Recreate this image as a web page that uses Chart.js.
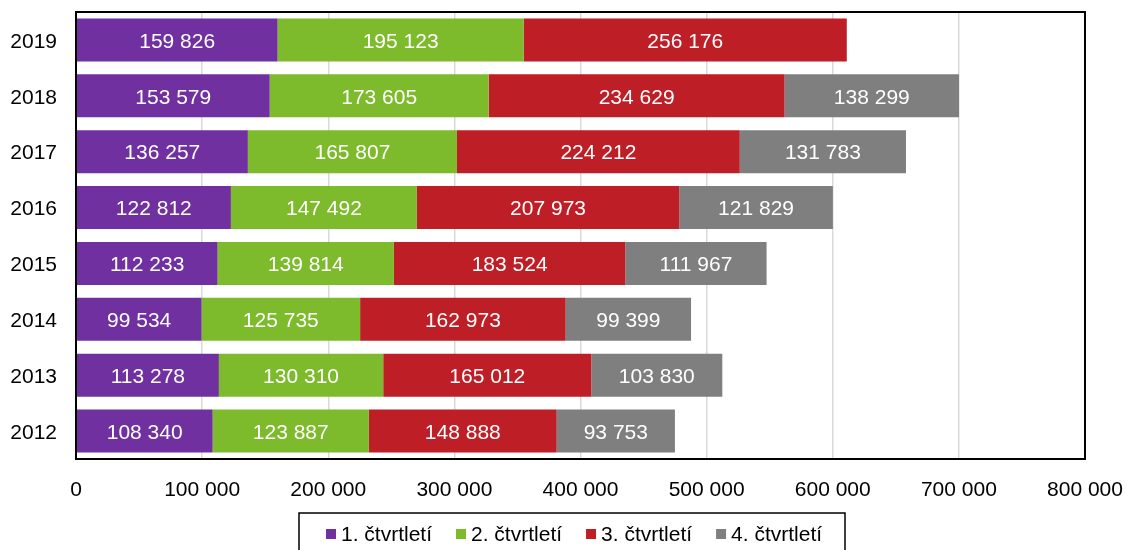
<!DOCTYPE html>
<html>
<head>
<meta charset="utf-8">
<script src="https://cdn.jsdelivr.net/npm/chart.js@4/dist/chart.umd.min.js"></script>
<style>
html,body{margin:0;padding:0;background:#fff;}
#wrap{width:1126px;height:550px;}
</style>
</head>
<body>
<div id="wrap"><canvas id="c" width="1126" height="550"></canvas></div>
<script>
const years = ['2019','2018','2017','2016','2015','2014','2013','2012'];
const q1 = [159826,153579,136257,122812,112233,99534,113278,108340];
const q2 = [195123,173605,165807,147492,139814,125735,130310,123887];
const q3 = [256176,234629,224212,207973,183524,162973,165012,148888];
const q4 = [null,138299,131783,121829,111967,99399,103830,93753];
const seriesNames = ['1. čtvrtletí','2. čtvrtletí','3. čtvrtletí','4. čtvrtletí'];
const seriesColors = ['#7030A0','#7DBA2C','#BE1E26','#7F7F7F'];

const FONT = '"Liberation Sans", Arial, sans-serif';
const fmt = v => String(Math.round(v)).replace(/\B(?=(\d{3})+(?!\d))/g, ' ');

const labelsPlugin = {
  id: 'segLabels',
  afterDatasetsDraw(chart) {
    const ctx = chart.ctx;
    ctx.save();
    ctx.fillStyle = '#fff';
    ctx.font = '21px ' + FONT;
    ctx.textAlign = 'center';
    ctx.textBaseline = 'middle';
    chart.data.datasets.forEach((ds, di) => {
      const meta = chart.getDatasetMeta(di);
      meta.data.forEach((el, i) => {
        const v = ds.data[i];
        if (v == null) return;
        const cx = (el.x + el.base) / 2;
        ctx.fillText(fmt(v), cx, el.y + 2);
      });
    });
    ctx.restore();
  }
};

const frameLegendPlugin = {
  id: 'frameLegend',
  afterDraw(chart) {
    const ctx = chart.ctx;
    const a = chart.chartArea;
    ctx.save();
    ctx.strokeStyle = '#000';
    ctx.lineWidth = 2;
    ctx.strokeRect(a.left, a.top, a.right - a.left, a.bottom - a.top);
    ctx.lineWidth = 1.5;
    ctx.strokeRect(299, 513, 546, 50);
    ctx.font = '21px ' + FONT;
    ctx.textBaseline = 'middle';
    ctx.textAlign = 'left';
    let x = 326;
    const cy = 534;
    chart.data.datasets.forEach(ds => {
      ctx.fillStyle = ds.backgroundColor;
      ctx.fillRect(x, cy - 5, 10, 10);
      ctx.fillStyle = '#000';
      ctx.fillText(ds.label, x + 15, cy + 1);
      x += 15 + ctx.measureText(ds.label).width + 24;
    });
    ctx.restore();
  }
};

function zeroPad(axis) {
  axis.paddingLeft = 0; axis.paddingRight = 0; axis.paddingTop = 0; axis.paddingBottom = 0;
}

new Chart(document.getElementById('c'), {
  type: 'bar',
  data: {
    labels: years,
    datasets: [q1, q2, q3, q4].map((d, i) => ({
      label: seriesNames[i],
      data: d,
      backgroundColor: seriesColors[i],
      borderWidth: 0,
      barPercentage: 0.77,
      categoryPercentage: 1
    }))
  },
  options: {
    indexAxis: 'y',
    responsive: false,
    animation: false,
    devicePixelRatio: 1,
    layout: { padding: { left: 0, top: 12, right: 41, bottom: 0 } },
    plugins: { legend: { display: false }, tooltip: { enabled: false } },
    scales: {
      x: {
        stacked: true,
        min: 0, max: 800000,
        ticks: { stepSize: 100000, callback: v => fmt(v), color: '#000', font: { family: FONT, size: 21 }, padding: 19, maxRotation: 0 },
        grid: { color: '#d9d9d9', lineWidth: 1.5, drawTicks: false },
        border: { display: false },
        afterFit(axis) { axis.height = 91; zeroPad(axis); }
      },
      y: {
        stacked: true,
        ticks: { color: '#000', font: { family: FONT, size: 21 }, padding: 19, labelOffset: 2 },
        grid: { display: false, drawTicks: false },
        border: { display: false },
        afterFit(axis) { axis.width = 76; zeroPad(axis); }
      }
    }
  },
  plugins: [labelsPlugin, frameLegendPlugin]
});
</script>
</body>
</html>
